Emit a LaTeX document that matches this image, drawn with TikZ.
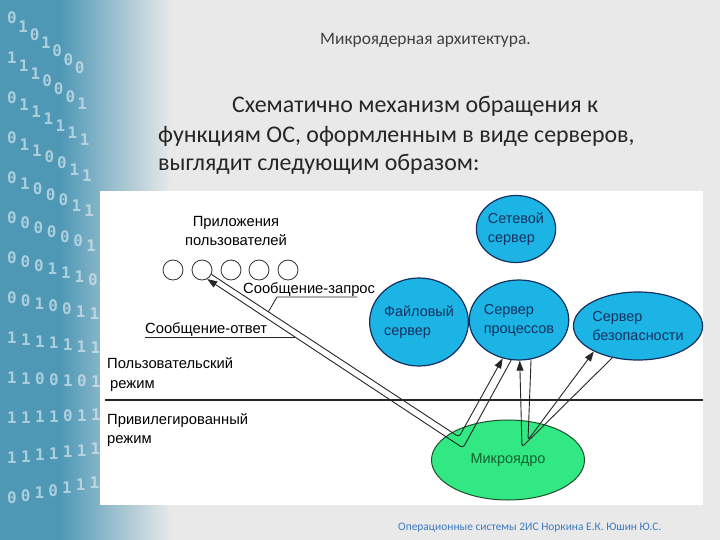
\documentclass[tikz,border=0pt]{standalone}
\usepackage{fontspec}
\setmainfont{Liberation Sans}
\newfontfamily\slidefont{Carlito}
\newfontfamily\digitfont{DejaVu Sans Mono}
\usetikzlibrary{shapes.geometric, arrows.meta, positioning, fadings, calc}

\definecolor{slidebg}{RGB}{233,233,233}
\definecolor{stripblue}{RGB}{78,152,182}
\definecolor{srvfill}{RGB}{28,180,228}
\definecolor{srvline}{RGB}{22,48,96}
\definecolor{kernfill}{RGB}{50,232,130}
\definecolor{kernline}{RGB}{28,80,44}
\definecolor{kerntext}{RGB}{20,96,48}
\definecolor{foottext}{RGB}{62,122,190}

\tikzset{
  server/.style={ellipse, draw=srvline, fill=srvfill, line width=1.2bp, inner sep=0pt,
    text=srvline, font=\fontsize{14.5}{19}\selectfont, align=left},
  appcircle/.style={circle, draw=black!80, line width=0.8bp, minimum size=20bp, inner sep=0pt},
  lbl/.style={font=\fontsize{14.8}{19}\selectfont, inner sep=0pt},
  msg/.style={draw=black!85, line width=0.9bp, rounded corners=3bp},
  msgarrow/.style={msg, -{Triangle[length=10bp,width=7bp]}},
  digits/.style={font=\digitfont\bfseries\fontsize{16}{16}\selectfont, text=white!88!stripblue,
    opacity=0.6, inner sep=0pt},
  headline/.style={font=\slidefont\fontsize{24}{28}\selectfont, text=black!85, inner sep=0pt, anchor=base west}
}

\begin{document}
\begin{tikzpicture}[x=1bp, y=-1bp]
  % Slide background
  \fill[slidebg] (0,0) rectangle (720,540);
  \useasboundingbox (0,0) rectangle (720,540);
  % Binary strip on the left
  \begin{scope}
    \clip (0,0) rectangle (170,540);
    \fill[stripblue] (0,0) rectangle (170,540);
    \pgfmathsetseed{12}
    \foreach \r in {0,...,12} {
      \pgfmathsetmacro\yy{18+40*\r}
      \pgfmathsetmacro\pang{atan((400-\yy)/520)}
      \foreach \k in {0,...,6} {
        \pgfmathrandominteger\dg{0}{1}
        \node[digits] (bit-\r-\k) at ($(12,\yy)+(\pang:{14*\k})$) {\dg};
      }
    }
    \fill[slidebg, path fading=west] (60,0) rectangle (170,540);
  \end{scope}

  % Titles
  \node[anchor=base west, inner sep=0pt, font=\slidefont\fontsize{17.5}{20}\selectfont, text=black!75]
    (title) at (320,45) {Микроядерная архитектура.};
  \node[headline] (head1) at (232,113) {Схематично механизм обращения к};
  \node[headline] (head2) at (158,143) {функциям ОС, оформленным в виде серверов,};
  \node[headline] (head3) at (158,171) {выглядит следующим образом:};

  % Diagram panel
  \fill[white] (100,191) rectangle (703,505);

  % User applications
  \node[lbl, align=center] (apps) at (236,231) {Приложения\\пользователей};
  \foreach \i/\xx in {1/173, 2/202, 3/231, 4/259, 5/288}
    \node[appcircle] (c\i) at (\xx,270) {};

  % Servers and microkernel
  \node[server, minimum width=72bp, minimum height=67bp] (net) at (516,229) {Сетевой\\сервер};
  \node[server, minimum width=92bp, minimum height=88bp] (file) at (419,322) {Файловый\\сервер};
  \node[server, minimum width=98bp, minimum height=80bp] (proc) at (519,320) {Сервер\\процессов};
  \node[server, minimum width=129bp, minimum height=68bp] (sec) at (638,326) {Сервер\\безопасности};
  \node[ellipse, draw=kernline, fill=kernfill, line width=1bp, minimum width=153bp,
    minimum height=80bp, text=kerntext, font=\fontsize{14.5}{19}\selectfont] (kern) at (508,460)
    {\raisebox{3bp}{Микроядро}};

  % Mode border
  \draw[line width=2bp, black!85] (105,400) -- (703,400);
  \node[lbl, anchor=base west] (user1) at (107,368) {Пользовательский};
  \node[lbl, anchor=base west] (user2) at (110,388) {режим};
  \node[lbl, anchor=base west] (priv1) at (107,424) {Привилегированный};
  \node[lbl, anchor=base west] (priv2) at (107,443) {режим};

  % Turning points inside the kernel
  \coordinate (v1in) at (459,437);
  \coordinate (v1out) at (463,448);
  \coordinate (v2in) at (528,440);
  \coordinate (v2out) at (522,447);

  % Messages client <-> process server
  \draw[msgarrow] (c2.-25) -- (v1in) -- (proc.-113);
  \draw[msgarrow] (proc.-101) -- (v1out) -- (c2.-60);
  % Messages process server <-> security server
  \draw[msgarrow] (proc.-73) -- (v2in) -- (sec.-150);
  \draw[msgarrow] (sec.-129) -- (v2out) -- (proc.-89);

  % Message labels
  \coordinate (reqpt) at ($(c2.-25)!0.23!(v1in)$);
  \coordinate (reppt) at ($(c2.-60)!0.344!(v1out)$);
  \node[lbl, anchor=base west] (req) at (243,293) {Сообщение-запрос};
  \node[lbl, anchor=base west] (rep) at (145,333) {Сообщение-ответ};
  \coordinate (reqbend) at (277,297);
  \draw[black!85, line width=0.8bp] (reqpt) -- (reqbend) -- ($(reqbend -| req.east)+(-18,0)$);
  \draw[black!85, line width=0.8bp] (reppt -| rep.west) -- (reppt);

  % Footer
  \node[anchor=base west, inner sep=0pt, font=\slidefont\fontsize{11.5}{13}\selectfont, text=foottext]
    (foot) at (398,530) {Операционные системы 2ИС Норкина Е.К. Юшин Ю.С.};
\end{tikzpicture}
\end{document}
